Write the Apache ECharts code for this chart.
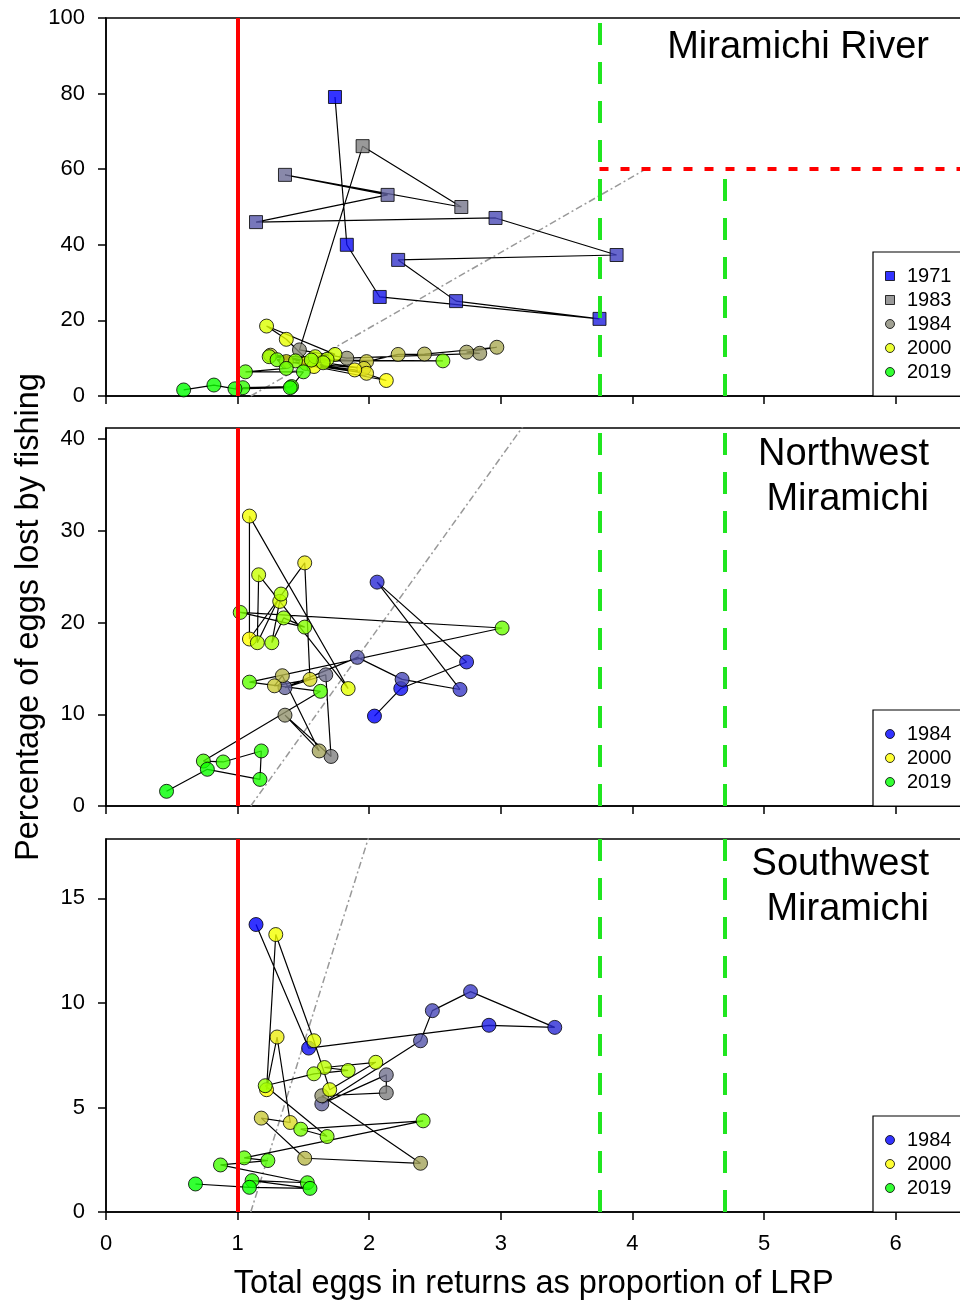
<!DOCTYPE html>
<html><head><meta charset="utf-8">
<script src="https://cdn.jsdelivr.net/npm/echarts@6/dist/echarts.min.js"></script>
<style>html,body{margin:0;padding:0;background:#fff}#c{width:960px;height:1302px}</style>
</head><body><div id="c"></div>
<script>
// ---------------- data ----------------
// Miramichi River: 1971-1983 (squares), 1984-2019 (circles)
const mainStartYear = 1971;
const mainSquareUntil = 1983;
const mainX = [1.74,1.83,2.08,3.75,2.66,2.22,3.88,2.96,1.14,2.14,1.36,2.70,1.95,
  1.47,1.83,2.84,2.74,2.97,2.42,2.22,1.98,1.25,1.96,1.37,1.98,1.52,1.89,2.13,1.58,1.37,1.22,
  1.74,1.59,1.68,1.65,1.24,1.56,1.44,2.56,1.30,1.37,1.06,1.50,1.41,1.04,1.40,0.98,0.82,0.59];
const mainY = [79.1,40.0,26.2,20.4,25.1,36.0,37.3,47.1,46.0,53.2,58.5,50.0,66.1,
  12.2,10.0,11.3,11.6,12.9,11.1,11.0,9.1,10.8,7.3,9.1,6.0,8.6,6.9,4.1,7.8,15.0,18.5,
  11.0,10.4,9.7,8.8,10.4,9.5,9.3,9.3,9.6,7.3,6.4,6.4,2.5,2.2,2.2,1.9,2.9,1.6];

// Northwest Miramichi: 1984-2019
const nwStartYear = 1984;
const nwX = [2.04,2.24,2.74,2.06,2.69,2.25,1.91,1.36,1.67,1.71,1.36,1.62,1.34,1.28,1.55,1.51,1.09,1.09,
  1.84,1.32,1.16,1.15,1.33,1.26,1.35,1.51,1.02,3.01,1.09,1.63,0.74,0.89,1.18,1.17,0.77,0.46];
const nwY = [9.8,12.8,15.7,24.4,12.7,13.8,16.2,12.9,14.3,5.4,9.9,6.0,14.2,13.1,13.8,26.5,18.2,31.6,
  12.8,22.3,25.2,17.8,23.1,17.8,20.5,19.5,21.1,19.4,13.5,12.5,4.9,4.8,6.0,2.9,4.0,1.6];

// Southwest Miramichi: 1984-2019
const swStartYear = 1984;
const swX = [1.14,1.54,2.91,3.41,2.77,2.48,2.39,1.64,2.13,2.13,1.64,2.39,1.51,1.18,1.40,1.30,1.22,1.29,
  1.58,1.70,2.05,1.66,1.84,1.58,1.21,1.68,1.48,2.41,1.05,1.23,0.87,1.53,1.11,1.55,1.09,0.68];
const swY = [13.75,7.84,8.93,8.83,10.54,9.63,8.19,5.17,6.56,5.70,5.56,2.33,2.57,4.49,4.28,8.37,5.85,13.27,
  8.19,5.85,7.16,6.91,6.77,6.61,6.04,3.61,3.96,4.36,2.59,2.46,2.25,1.40,1.50,1.13,1.18,1.34];

const panelTitles = ['Miramichi River', 'Northwest\nMiramichi', 'Southwest\nMiramichi'];
const legendYearsMain = ['1971','1983','1984','2000','2019'];
const legendYearsTrib = ['1984','2000','2019'];
const xMax = 6.5;
const xInterval = 1;
const yMaxes = [100, 41.2, 17.84];
const yIntervals = [20, 10, 5];
const lrp = 1;                 // limit reference point
const usrValues = [3.75, 4.7]; // upper stock references
const removalRefPct = 60;      // removal reference
const refDiagonal = [[1.1, 0], [4.1, 60]];
const xTitle = 'Total eggs in returns as proportion of LRP';
const yTitle = 'Percentage of eggs lost by fishing';

// ---------------- style ----------------
const FONT = '"Liberation Sans", Arial, Helvetica, sans-serif';
const STOPS_MAIN = [[1971,[0,0,255]],[1983,[128,128,128]],[1998,[255,255,0]],[2019,[0,255,0]]];
const STOPS_TRIB = [[1984,[0,0,255]],[1993,[128,128,128]],[2000,[255,255,0]],[2019,[0,255,0]]];
const GREEN = '#20e620', RED = '#ff0000';
const GRIDS = [
  {left:106, top:18, width:855.4, height:378},
  {left:106, top:428, width:855.4, height:378},
  {left:106, top:839, width:855.4, height:373}
];
const TITLE_TOPS = [25, 432, 842];
const TITLE_RIGHT_X = 929;

function rampColor(year, stops){
  if (year <= stops[0][0]) return 'rgb(' + stops[0][1].join(',') + ')';
  for (let i = 1; i < stops.length; i++){
    if (year <= stops[i][0]){
      const t = (year - stops[i-1][0]) / (stops[i][0] - stops[i-1][0]);
      const a = stops[i-1][1], b = stops[i][1];
      return 'rgb(' + a.map((v,k)=>Math.round(v + (b[k]-v)*t)).join(',') + ')';
    }
  }
  return 'rgb(' + stops[stops.length-1][1].join(',') + ')';
}

const panels = [
  {xs: mainX, ys: mainY, start: mainStartYear, stops: STOPS_MAIN, squareUntil: mainSquareUntil, legend: legendYearsMain},
  {xs: nwX, ys: nwY, start: nwStartYear, stops: STOPS_TRIB, squareUntil: 0, legend: legendYearsTrib},
  {xs: swX, ys: swY, start: swStartYear, stops: STOPS_TRIB, squareUntil: 0, legend: legendYearsTrib}
];

const SQUARE_PATH = 'path://M0 0H10V10H0Z';
const series = [];
const grid = [], xAxis = [], yAxis = [], legend = [], title = [];

panels.forEach((p, i) => {
  grid.push(Object.assign({show:true, borderColor:'#000', borderWidth:1.5, backgroundColor:'transparent',
    containLabel:false, outerBoundsMode:'none'}, GRIDS[i]));
  const bottom = i === 2;
  xAxis.push({
    type:'value', gridIndex:i, min:0, max:xMax, interval:xInterval,
    axisLine:{show:true, onZero:false, lineStyle:{color:'#000', width:1.5}},
    axisTick:{show:true, inside:false, length:8, lineStyle:{color:'#000', width:1.5}},
    axisLabel:{show:bottom, showMaxLabel:false, color:'#000', fontSize:22, fontFamily:FONT, margin:21},
    splitLine:{show:false},
    name: bottom ? xTitle : '', nameLocation:'middle', nameGap:56, nameMoveOverlap:false,
    nameTextStyle:{color:'#000', fontSize:32.5, fontFamily:FONT}
  });
  yAxis.push({
    type:'value', gridIndex:i, min:0, max:yMaxes[i], interval:yIntervals[i],
    axisLine:{show:true, onZero:false, lineStyle:{color:'#000', width:1.5}},
    axisTick:{show:true, inside:false, length:8, lineStyle:{color:'#000', width:1.5}},
    axisLabel:{show:true, showMaxLabel: i === 0, color:'#000', fontSize:22, fontFamily:FONT, margin:21},
    splitLine:{show:false},
    name: i === 1 ? yTitle : '', nameLocation:'middle', nameGap:60, nameRotate:90, nameMoveOverlap:false,
    nameTextStyle:{color:'#000', fontSize:32.5, fontFamily:FONT}
  });

  // reference diagonal
  series.push({type:'line', xAxisIndex:i, yAxisIndex:i, data:refDiagonal, symbol:'none', silent:true,
    lineStyle:{color:'#999999', width:1.5, type:[7,3,2,3]}, z:2, animation:false, clip:true});
  // year-to-year connecting line
  series.push({type:'line', xAxisIndex:i, yAxisIndex:i, symbol:'none', silent:true,
    data: p.xs.map((x,k)=>[x, p.ys[k]]),
    lineStyle:{color:'#000', width:1.2}, z:3, animation:false});
  // markers
  series.push({type:'scatter', xAxisIndex:i, yAxisIndex:i, silent:true, animation:false, z:4,
    data: p.xs.map((x,k)=>{
      const yr = p.start + k;
      const sq = yr <= p.squareUntil;
      return {value:[x, p.ys[k]], symbol: sq ? 'rect' : 'circle', symbolSize: sq ? 13 : 14,
        itemStyle:{color: rampColor(yr, p.stops), borderColor:'#000', borderWidth:1}};
    })});

  // reference lines
  const mk = (data, ls) => ({type:'scatter', xAxisIndex:i, yAxisIndex:i, data:[], silent:true, z:10, animation:false,
    markLine:{silent:true, symbol:['none','none'], label:{show:false}, animation:false, lineStyle:ls, data:data}});
  series.push(mk([{xAxis: lrp}], {color:RED, width:4, type:'solid'}));
  if (i === 0){
    series.push(mk([{xAxis: usrValues[0]}, [{coord:[usrValues[1], 0]}, {coord:[usrValues[1], removalRefPct]}]],
      {color:GREEN, width:4, type:[22,17]}));
    series.push(mk([[{coord:[usrValues[0], removalRefPct]}, {coord:[xMax, removalRefPct]}]],
      {color:RED, width:4, type:[9,12]}));
  } else {
    series.push(mk(usrValues.map(v=>({xAxis:v})), {color:GREEN, width:4, type:[22,17]}));
  }

  // legend
  const lt = GRIDS[i].top + GRIDS[i].height - (28 + p.legend.length*20 + (p.legend.length-1)*4);
  legend.push({
    orient:'vertical', left:873, top:lt, selectedMode:false,
    padding:[14,30,14,12], itemGap:4, itemWidth:24, itemHeight:9,
    borderColor:'#000', borderWidth:1.2, backgroundColor:'#fff',
    textStyle:{color:'#000', fontSize:20, fontFamily:FONT},
    data: p.legend.map(y=>{
      const yr = +y;
      const sq = yr <= p.squareUntil;
      return {name:y, icon: sq ? SQUARE_PATH : 'circle',
        itemStyle:{color: rampColor(yr, p.stops), borderColor:'#000', borderWidth:1}};
    })
  });

  // panel title (lines right-aligned at TITLE_RIGHT_X)
  title.push({text: panelTitles[i], left: TITLE_RIGHT_X, top: TITLE_TOPS[i], textAlign:'right', padding:0,
    textStyle:{color:'#000', fontSize:38, fontWeight:'normal', fontFamily:FONT, lineHeight:45}});
});

// dummy series so the legend items exist
['1971','1983','1984','2000','2019'].forEach(n => {
  series.push({type:'scatter', name:n, xAxisIndex:0, yAxisIndex:0, data:[], silent:true});
});

const chart = echarts.init(document.getElementById('c'), null, {renderer:'canvas', width:960, height:1302});
chart.setOption({
  animation:false,
  backgroundColor:'#fff',
  title, grid, xAxis, yAxis, legend, series,
  tooltip:{show:false}
});
</script></body></html>
